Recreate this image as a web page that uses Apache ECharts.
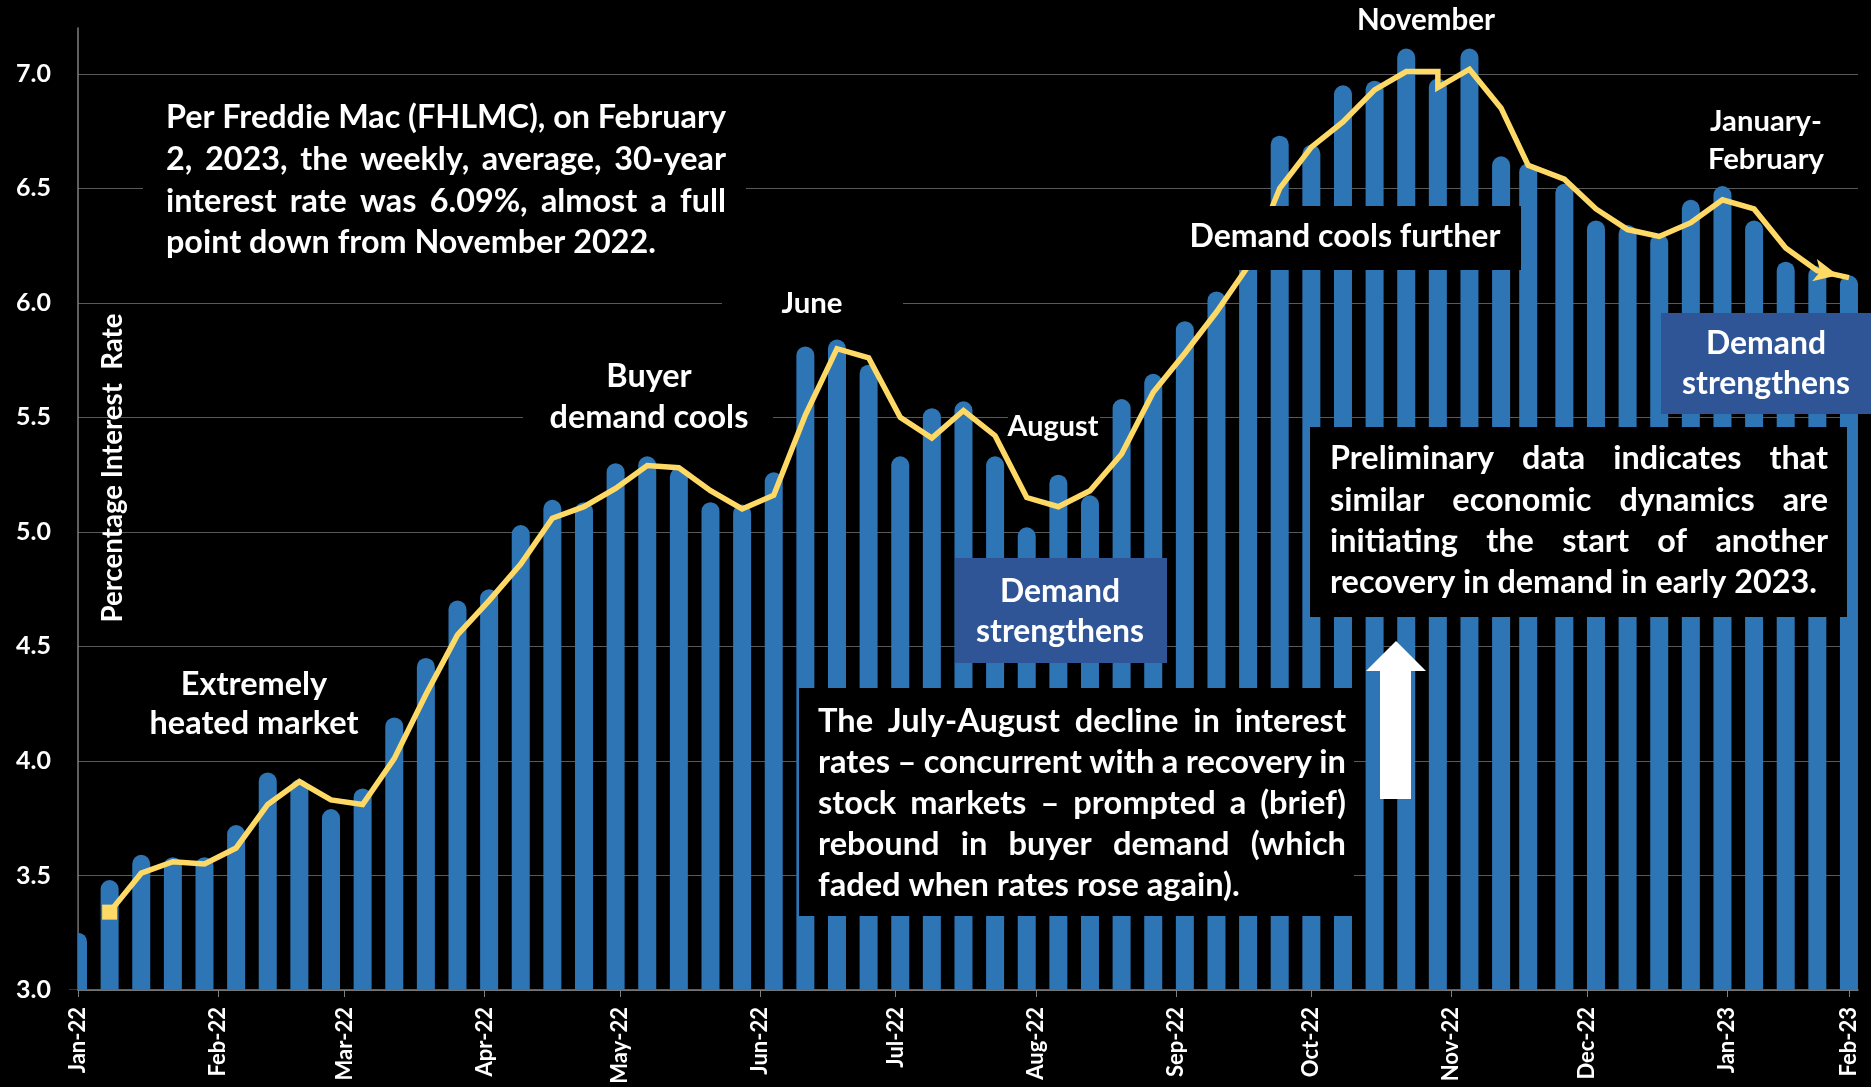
<!DOCTYPE html>
<html>
<head>
<meta charset="utf-8">
<script src="https://cdn.jsdelivr.net/npm/echarts@6.0.0/dist/echarts.min.js"></script>
<style>
  html, body { margin: 0; padding: 0; background: #000; }
  #chart { width: 1871px; height: 1087px; }
</style>
</head>
<body>
<div id="chart"></div>
<script>
// weekly 30-year rate, one bar per week
const weekDates = [
  '2022-01-06', '2022-01-13', '2022-01-20', '2022-01-27', '2022-02-03', '2022-02-10', '2022-02-17', '2022-02-24',
  '2022-03-03', '2022-03-10', '2022-03-17', '2022-03-24', '2022-03-31', '2022-04-07', '2022-04-14', '2022-04-21',
  '2022-04-28', '2022-05-05', '2022-05-12', '2022-05-19', '2022-05-26', '2022-06-02', '2022-06-09', '2022-06-16',
  '2022-06-23', '2022-06-30', '2022-07-07', '2022-07-14', '2022-07-21', '2022-07-28', '2022-08-04', '2022-08-11',
  '2022-08-18', '2022-08-25', '2022-09-01', '2022-09-08', '2022-09-15', '2022-09-22', '2022-09-29', '2022-10-06',
  '2022-10-13', '2022-10-20', '2022-10-27', '2022-11-03', '2022-11-10', '2022-11-17', '2022-11-23', '2022-12-01',
  '2022-12-08', '2022-12-15', '2022-12-22', '2022-12-29', '2023-01-05', '2023-01-12', '2023-01-19', '2023-01-26',
  '2023-02-02'
];
const weeklyRate = [
  3.25, 3.48, 3.59, 3.58, 3.58, 3.72, 3.95, 3.92,
  3.79, 3.88, 4.19, 4.45, 4.70, 4.75, 5.03, 5.14,
  5.13, 5.30, 5.33, 5.28, 5.13, 5.12, 5.26, 5.81,
  5.84, 5.73, 5.33, 5.54, 5.57, 5.33, 5.02, 5.25,
  5.16, 5.58, 5.69, 5.92, 6.05, 6.32, 6.73, 6.69,
  6.95, 6.97, 7.11, 6.98, 7.11, 6.64, 6.61, 6.52,
  6.36, 6.34, 6.30, 6.45, 6.51, 6.36, 6.18, 6.16,
  6.12
];

// yellow trend line (note the little notch on 3 Nov)
const trendDates = [
  '2022-01-13', '2022-01-20', '2022-01-27', '2022-02-03', '2022-02-10', '2022-02-17', '2022-02-24', '2022-03-03',
  '2022-03-10', '2022-03-17', '2022-03-24', '2022-03-31', '2022-04-07', '2022-04-14', '2022-04-21', '2022-04-28',
  '2022-05-05', '2022-05-12', '2022-05-19', '2022-05-26', '2022-06-02', '2022-06-09', '2022-06-16', '2022-06-23',
  '2022-06-30', '2022-07-07', '2022-07-14', '2022-07-21', '2022-07-28', '2022-08-04', '2022-08-11', '2022-08-18',
  '2022-08-25', '2022-09-01', '2022-09-08', '2022-09-15', '2022-09-22', '2022-09-29', '2022-10-06', '2022-10-13',
  '2022-10-20', '2022-10-27', '2022-11-03', '2022-11-03', '2022-11-10', '2022-11-17', '2022-11-23', '2022-12-01',
  '2022-12-08', '2022-12-15', '2022-12-22', '2022-12-29', '2023-01-05', '2023-01-12', '2023-01-19', '2023-01-26',
  '2023-02-02'
];
const trendRate = [
  3.34, 3.51, 3.56, 3.55, 3.62, 3.81, 3.91, 3.83,
  3.81, 4.01, 4.29, 4.55, 4.70, 4.86, 5.06, 5.11,
  5.19, 5.29, 5.28, 5.18, 5.10, 5.16, 5.51, 5.80,
  5.76, 5.50, 5.41, 5.53, 5.42, 5.15, 5.11, 5.18,
  5.34, 5.61, 5.78, 5.96, 6.16, 6.50, 6.68, 6.79,
  6.93, 7.01, 7.01, 6.94, 7.02, 6.85, 6.60, 6.54,
  6.41, 6.32, 6.29, 6.35, 6.45, 6.41, 6.24, 6.14,
  6.11
];

// where the month labels sit on the date axis
const tickDates = [
  '2022-01-06', '2022-02-06', '2022-03-06', '2022-04-06', '2022-05-06', '2022-06-06', '2022-07-06',
  '2022-08-06', '2022-09-06', '2022-10-06', '2022-11-06', '2022-12-06', '2023-01-06', '2023-02-02'
];
const monthNames = ['Jan', 'Feb', 'Mar', 'Apr', 'May', 'Jun', 'Jul', 'Aug', 'Sep', 'Oct', 'Nov', 'Dec'];

const noteFreddie = [
  'Per Freddie Mac (FHLMC), on February',
  '2, 2023, the weekly, average, 30-year',
  'interest rate was 6.09%, almost a full',
  'point down from November 2022.'
];
const noteJulyAug = [
  'The July-August decline in interest',
  'rates \u2013 concurrent with a recovery in',
  'stock markets \u2013 prompted a (brief)',
  'rebound in buyer demand (which',
  'faded when rates rose again).'
];
const notePrelim = [
  'Preliminary data indicates that',
  'similar economic dynamics are',
  'initiating the start of another',
  'recovery in demand in early 2023.'
];

const FONT = 'Lato';
const BLUE = '#2E75B6';
const YELLOW = '#FFD966';

function toTime(s) {
  return new Date(s + 'T00:00:00').getTime();
}

const measureCtx = document.createElement('canvas').getContext('2d');
function textWidth(str, size) {
  measureCtx.font = 'bold ' + size + 'px ' + FONT;
  return measureCtx.measureText(str).width;
}
// font size that makes str about `width` px wide
function fitSize(str, width) {
  return 100 * width / textWidth(str, 100);
}

function text(str, x, y, size, align) {
  return {
    type: 'text', x: x, y: y, z: 110, silent: true,
    style: {
      text: str, font: 'bold ' + size + 'px ' + FONT, fill: '#fff',
      align: align || 'center', verticalAlign: 'middle',
      textAlign: align || 'center', textVerticalAlign: 'middle'
    }
  };
}

function box(x, y, w, h, fill) {
  return { type: 'rect', z: 100, silent: true, shape: { x: x, y: y, width: w, height: h }, style: { fill: fill } };
}

// justified block like the word-processor text boxes
function paragraph(lines, left, right, top, step, size) {
  const out = [];
  lines.forEach((line, i) => {
    const y = top + i * step;
    const words = line.split(/\s+/);
    if (i === lines.length - 1 || words.length < 2) {
      out.push(text(line, left, y, size, 'left'));
      return;
    }
    const widths = words.map((w) => textWidth(w, size));
    const used = widths.reduce((a, b) => a + b, 0);
    const gap = (right - left - used) / (words.length - 1);
    let x = left;
    words.forEach((w, k) => {
      out.push(text(w, x, y, size, 'left'));
      x += widths[k] + gap;
    });
  });
  return out;
}

const tickTimes = tickDates.map(toTime);

const barData = weekDates.map((d, i) => [toTime(d), weeklyRate[i]]);
const trendData = trendDates.map((d, i) => [toTime(d), trendRate[i]]);
const lastIdx = trendData.length - 1;
trendData[0] = { value: trendData[0], symbol: 'rect', symbolSize: 15 };
trendData[lastIdx] = {
  value: trendData[lastIdx], symbol: 'arrow', symbolSize: [17, 24],
  symbolRotate: -102, symbolOffset: [-11, -2.5]
};

const freddieSize = fitSize(noteFreddie[3], 490);
const julySize = fitSize(noteJulyAug[4], 422);
const prelimSize = fitSize(notePrelim[3], 487);
const strengthSize = fitSize('strengthens', 168);
const febSize = fitSize('February', 116);

const graphics = [
  // the first bar sits on the axis and is cut off at it
  { type: 'rect', z: 50, silent: true, shape: { x: 60, y: 880, width: 17.2, height: 109.5 }, style: { fill: '#000' } },
  box(143, 80, 603, 215, '#000'),
  box(523, 350, 250, 96, '#000'),
  box(722, 282, 181, 44, '#000'),
  box(1008, 408, 92, 38, '#000'),
  box(799, 688, 555, 228, '#000'),
  box(1173, 206, 348, 64, '#000'),
  box(1310, 427, 537, 190, '#000'),
  box(955, 558, 212, 105, '#2F5597'),
  box(1661, 313, 210, 101, '#2F5597'),
  {
    type: 'polygon', z: 105, silent: true,
    shape: { points: [[1396, 641], [1426, 671], [1411, 671], [1411, 799], [1380, 799], [1380, 671], [1366, 671]] },
    style: { fill: '#fff' }
  },
  {
    type: 'text', x: 113, y: 468, rotation: Math.PI / 2, z: 110, silent: true,
    style: {
      text: 'Percentage Interest  Rate', font: 'bold ' + fitSize('Percentage Interest  Rate', 309) + 'px ' + FONT,
      fill: '#fff', align: 'center', verticalAlign: 'middle', textAlign: 'center', textVerticalAlign: 'middle'
    }
  },
  text('Extremely', 254, 685, fitSize('heated market', 209)),
  text('heated market', 254, 724, fitSize('heated market', 209)),
  text('Buyer', 649, 377, fitSize('demand cools', 199)),
  text('demand cools', 649, 418, fitSize('demand cools', 199)),
  text('June', 812, 304, fitSize('June', 61)),
  text('August', 1053, 427, fitSize('August', 91)),
  text('Demand', 1060, 592, strengthSize),
  text('strengthens', 1060, 632, strengthSize),
  text('Demand cools further', 1345, 237, fitSize('Demand cools further', 311)),
  text('November', 1426, 20, fitSize('November', 138)),
  text('January-', 1766, 122, febSize),
  text('February', 1766, 160, febSize),
  text('Demand', 1766, 344, strengthSize),
  text('strengthens', 1766, 384, strengthSize)
].concat(
  paragraph(noteFreddie, 166, 726, 118, 41.6, freddieSize),
  paragraph(noteJulyAug, 818, 1346, 721, 41, julySize),
  paragraph(notePrelim, 1330, 1828, 459, 41.3, prelimSize)
);

const chart = echarts.init(document.getElementById('chart'));
chart.setOption({
  backgroundColor: '#000',
  animation: false,
  grid: { left: 78, right: 13, top: 28, bottom: 97, containLabel: false, outerBoundsMode: 'none' },
  xAxis: {
    type: 'value',
    min: toTime('2022-01-06'),
    max: toTime('2023-02-04'),
    axisLine: { show: true, onZero: false, lineStyle: { color: '#7f7f7f', width: 1.5 } },
    axisTick: { show: true, customValues: tickTimes, length: 7, lineStyle: { color: '#7f7f7f' } },
    axisLabel: {
      customValues: tickTimes,
      rotate: 90,
      margin: 17,
      color: '#fff',
      fontFamily: FONT,
      fontWeight: 'bold',
      fontSize: 22,
      formatter: (val) => {
        const d = new Date(val);
        return monthNames[d.getMonth()] + '-' + String(d.getFullYear()).slice(2);
      }
    },
    splitLine: { show: false }
  },
  yAxis: {
    type: 'value',
    min: 3,
    max: 7.2,
    interval: 0.5,
    axisLine: { show: true, lineStyle: { color: '#7f7f7f', width: 1.5 } },
    axisTick: { show: false },
    axisLabel: {
      color: '#fff', fontFamily: FONT, fontWeight: 'bold', fontSize: 25, margin: 27,
      showMaxLabel: false,
      formatter: (v) => (v > 7.05 ? '' : v.toFixed(1))
    },
    splitLine: { show: true, showMaxLine: false, lineStyle: { color: '#595959', width: 1 } }
  },
  series: [
    {
      type: 'bar',
      data: barData,
      barWidth: 18,
      itemStyle: { color: BLUE, borderRadius: [9, 9, 0, 0] },
      silent: true
    },
    {
      type: 'line',
      data: trendData,
      symbol: 'circle',
      symbolSize: 0,
      showSymbol: true,
      showAllSymbol: true,
      lineStyle: { color: YELLOW, width: 5.5, join: 'miter' },
      itemStyle: { color: YELLOW },
      silent: true
    }
  ],
  graphic: graphics
});
</script>
</body>
</html>
